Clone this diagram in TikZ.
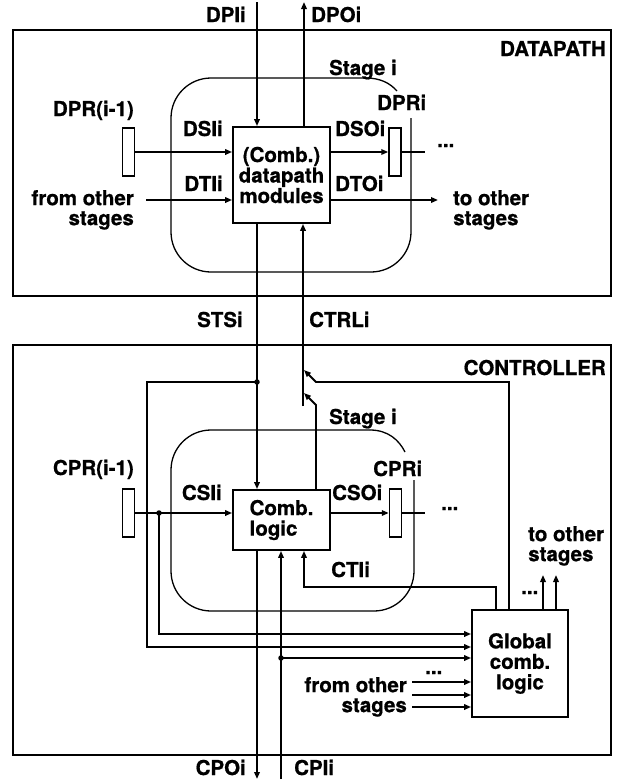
\documentclass[tikz,border=0pt]{standalone}
\usepackage{fontspec}
\setmainfont{TeX Gyre Heros}[BoldFeatures={FakeBold=0.8}]
\usetikzlibrary{arrows.meta}
\tikzset{
  lbl/.style={inner sep=0pt, font=\bfseries\fontsize{20.5}{20}\selectfont},
  box/.style={draw, line width=1.8pt, inner sep=0pt, font=\bfseries\fontsize{20.5}{20.5}\selectfont},
  reg/.style={draw, line width=1.5pt, minimum width=12pt, minimum height=48pt, inner sep=0pt},
  wire/.style={line width=1.8pt},
  arr/.style={wire, -{Triangle[length=7pt,width=5.5pt]}},
  frame/.style={line width=1.8pt},
  region/.style={line width=1.3pt},
  jdot/.style={circle, fill, inner sep=0pt, minimum size=5.5pt}
}
\begin{document}
\begin{tikzpicture}[x=1pt,y=-1pt]
\useasboundingbox (0,0) rectangle (618,780);
% frames
\draw[frame] (13,30) rectangle (611,296);
\draw[frame] (13,345) rectangle (611,755);
% stage regions
\draw[region, rounded corners=40pt] (366,78) -- (171,78) -- (171,272) -- (411,272) -- (411,118);
\draw[region] (366,78) .. controls (380,78) and (390,83) .. (397,91);
\draw[region, rounded corners=40pt] (370,430) -- (171,430) -- (171,611) -- (414,611) -- (414,480);
\draw[region] (370,430) .. controls (388,430) and (399,440) .. (405,452);

% datapath nodes
\node[box, minimum width=97pt, minimum height=96pt, align=center] (dpc) at (281.5,175) {(Comb.)\\datapath\\modules};
\node[reg] (dpr0) at (128.5,152) {};
\node[reg] (dpri) at (395,152) {};
% controller nodes
\node[box, minimum width=97pt, minimum height=60pt, align=left] (cc) at (281.5,520) {Comb.\\logic};
\node[reg] (cpr0) at (128.5,513) {};
\node[reg] (cpri) at (395.5,513) {};
\node[box, minimum width=96pt, minimum height=107pt, align=center] (glob) at (520,663.5) {Global\\comb.\\logic};

% coordinates
\coordinate (dpi) at (257,2);
\coordinate (dpo) at (304,2);
\coordinate (dti) at (146,200);
\coordinate (dto) at (438,200);
\coordinate (dsoend) at (425,152);
\coordinate (j1) at (257,382);
\coordinate (ctrlbot) at (303,406);
\coordinate (fbx) at (509,382);
\coordinate (fb1) at (316,382);
\coordinate (fb0) at (304,370);
\coordinate (co1) at (316,405);
\coordinate (co0) at (304,393);
\coordinate (cti1) at (496,587);
\coordinate (cti2) at (304,587);
\coordinate (ll) at (147,382);
\coordinate (ll2) at (147,647);
\coordinate (j2) at (159,513);
\coordinate (j2b) at (159,634);
\coordinate (csoend) at (425,513);
\coordinate (cpo) at (257,779);
\coordinate (cpi) at (281,779);
\coordinate (j3) at (281,658);
\coordinate (os1) at (412,682);
\coordinate (os2) at (412,695);
\coordinate (os3) at (412,707);
\coordinate (up1) at (543,575);
\coordinate (up2) at (556,575);

% datapath connectors
\draw[arr] (dpi) -- (dpi |- dpc.north);
\draw[arr] (dpo |- dpc.north) -- (dpo);
\draw[arr] (dpr0.east) -- (dpr0.east -| dpc.west);
\draw[arr] (dti) -- (dti -| dpc.west);
\draw[arr] (dpc.east |- dpri.west) -- (dpri.west);
\draw[wire] (dpri.east) -- (dsoend);
\draw[arr] (dto -| dpc.east) -- (dto);
% between
\draw[arr] (j1 |- dpc.south) -- (j1 |- cc.north);
\draw[arr] (ctrlbot) -- (ctrlbot |- dpc.south);
% controller connectors
\draw[arr] (fbx |- glob.north) -- (fbx) -- (fb1) -- (fb0);
\draw[arr] (co1 |- cc.north) -- (co1) -- (co0);
\draw[arr] (cti1 |- glob.north) -- (cti1) -- (cti2) -- (cti2 |- cc.south);
\draw[arr] (j1) -- (ll) -- (ll2) -- (ll2 -| glob.west);
\draw[arr] (cpr0.east) -- (cpr0.east -| cc.west);
\draw[arr] (j2) -- (j2b) -- (j2b -| glob.west);
\draw[arr] (cc.east |- cpri.west) -- (cpri.west);
\draw[wire] (cpri.east) -- (csoend);
\draw[arr] (cpo |- cc.south) -- (cpo);
\draw[arr] (cpi) -- (cpi |- cc.south);
\draw[arr] (j3) -- (j3 -| glob.west);
\draw[arr] (os1) -- (os1 -| glob.west);
\draw[arr] (os2) -- (os2 -| glob.west);
\draw[arr] (os3) -- (os3 -| glob.west);
\draw[arr] (up1 |- glob.north) -- (up1);
\draw[arr] (up2 |- glob.north) -- (up2);
\node[jdot] at (j1) {};
\node[jdot] at (j2) {};
\node[jdot] at (j3) {};

% labels
\node[lbl, anchor=base east] (lDPI) at (246,22) {DPIi};
\node[lbl, anchor=base west] (lDPO) at (311,22) {DPOi};
\node[lbl, anchor=base east] (lDATA) at (606,56) {DATAPATH};
\node[lbl, anchor=base west] (lstg1) at (329,75) {Stage i};
\node[lbl, anchor=base east] (lDPR0) at (134,116) {DPR(i-1)};
\node[lbl, anchor=base west] (lDPRi) at (377,110) {DPRi};
\node[lbl, anchor=base east] (lDSI) at (223,136) {DSIi};
\node[lbl, anchor=base west] (lDSO) at (335,136) {DSOi};
\node[lbl, anchor=base east] (lDTI) at (223,191) {DTIi};
\node[lbl, anchor=base west] (lDTO) at (335,191) {DTOi};
\node[lbl, anchor=north east, align=right] (lfrom1) at (134,190) {from other\\stages};
\node[lbl, anchor=north west, align=left] (lto1) at (453,190) {to other\\stages};
\node[lbl, anchor=base west] (d1) at (437,147) {...};
\node[lbl, anchor=base east] (lSTS) at (243,327) {STSi};
\node[lbl, anchor=base west] (lCTRL) at (309,327) {CTRLi};
\node[lbl, anchor=base east] (lCTL) at (606,375) {CONTROLLER};
\node[lbl, anchor=base west] (lstg2) at (329,424) {Stage i};
\node[lbl, anchor=base east] (lCPR0) at (134,475) {CPR(i-1)};
\node[lbl, anchor=base west] (lCPRi) at (373,476) {CPRi};
\node[lbl, anchor=base east] (lCSI) at (222,500) {CSIi};
\node[lbl, anchor=base west] (lCSO) at (332,500) {CSOi};
\node[lbl, anchor=base west] (d2) at (441,510) {...};
\node[lbl, anchor=base west] (lCTI) at (331,577) {CTIi};
\node[lbl, anchor=north west, align=left] (lto2) at (528,526) {to other\\stages};
\node[lbl, anchor=base west] (d3) at (521,594) {...};
\node[lbl, anchor=north east, align=right] (lfrom2) at (407,677) {from other\\stages};
\node[lbl, anchor=base west] (d4) at (425,674) {...};
\node[lbl, anchor=base east] (lCPO) at (246,775) {CPOi};
\node[lbl, anchor=base west] (lCPI) at (294,775) {CPIi};
\end{tikzpicture}
\end{document}
